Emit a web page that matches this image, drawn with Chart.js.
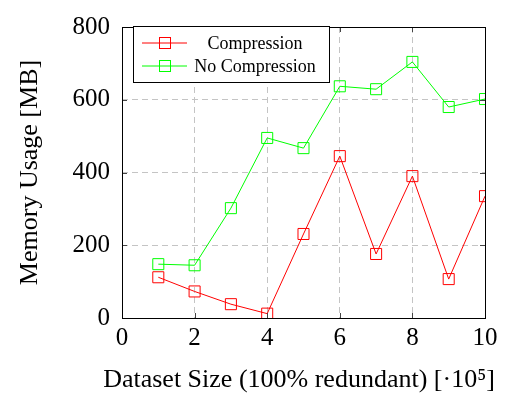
<!DOCTYPE html>
<html>
<head>
<meta charset="utf-8">
<script src="https://cdn.jsdelivr.net/npm/chart.js@4.4.0/dist/chart.umd.min.js"></script>
<style>
	body { margin: 0; background: #fff; }
</style>
</head>
<body>
<canvas id="chart" width="508" height="396"></canvas>
<script>
let datasetSizes = [1, 2, 3, 4, 5, 6, 7, 8, 9, 10];
let compression = [112, 73, 38, 12, 231, 445, 176, 390, 107, 335];
let noCompression = [148, 145, 302, 495, 467, 637, 629, 704, 580, 602];
let xTicks = [0, 2, 4, 6, 8, 10];
let yTicks = [0, 200, 400, 600, 800];
let xTitle = 'Dataset Size (100% redundant) [·10⁵]';
let yTitle = 'Memory Usage [MB]';

let serif = "'Liberation Serif', 'Times New Roman', serif";

function toPoints(values) {
	return values.map((v, i) => {return {'x': datasetSizes[i], 'y': v}});
}

// frame, small tick marks, x title and the legend box inside the plot
let framePlugin = {
	id: 'frame',
	afterDraw(chart) {
		let ctx = chart.ctx;
		let a = chart.chartArea;
		let xs = chart.scales.x, ys = chart.scales.y;
		ctx.save();
		ctx.strokeStyle = '#444';
		ctx.lineWidth = 1;
		ctx.beginPath();
		xTicks.forEach(t => {
			let px = Math.round(xs.getPixelForValue(t)) + 0.5;
			ctx.moveTo(px, a.bottom); ctx.lineTo(px, a.bottom - 5);
			ctx.moveTo(px, a.top); ctx.lineTo(px, a.top + 5);
		});
		yTicks.forEach(t => {
			let py = Math.round(ys.getPixelForValue(t)) + 0.5;
			ctx.moveTo(a.left, py); ctx.lineTo(a.left + 5, py);
			ctx.moveTo(a.right, py); ctx.lineTo(a.right - 5, py);
		});
		ctx.stroke();
		ctx.strokeStyle = '#000';
		ctx.strokeRect(Math.round(a.left) + 0.5, Math.round(a.top) + 0.5, Math.round(a.right - a.left), Math.round(a.bottom - a.top));

		// x title, drawn here so it is not squeezed to the axis width
		ctx.fillStyle = '#000';
		ctx.font = '26px ' + serif;
		ctx.textAlign = 'center';
		ctx.textBaseline = 'middle';
		ctx.fillText(xTitle, 299, 380);

		// legend
		let bx = 133.5, by = 26.5, bw = 196, bh = 56;
		ctx.fillStyle = '#fff';
		ctx.fillRect(bx, by, bw, bh);
		ctx.strokeStyle = '#000';
		ctx.strokeRect(bx, by, bw, bh);
		ctx.font = '18px ' + serif;
		chart.data.datasets.forEach((ds, i) => {
			let y = 43 + i * 23;
			ctx.strokeStyle = ds.borderColor;
			ctx.beginPath();
			ctx.moveTo(142, y); ctx.lineTo(187, y);
			ctx.stroke();
			ctx.strokeRect(159.5, y - 5.5, 11, 11);
			ctx.fillStyle = '#000';
			ctx.fillText(ds.label, 255, y + 1);
		});
		ctx.restore();
	}
};

new Chart(document.querySelector('#chart'), {
	type: 'line',
	data: {
		datasets: [
			{
				label: 'Compression',
				data: toPoints(compression),
				borderColor: '#ff0000',
				borderWidth: 1,
				pointStyle: 'rect',
				pointRadius: 7.8,
				pointBorderWidth: 1,
				pointBackgroundColor: 'rgba(0,0,0,0)',
				pointBorderColor: '#ff0000',
				tension: 0
			},
			{
				label: 'No Compression',
				data: toPoints(noCompression),
				borderColor: '#00ff00',
				borderWidth: 1,
				pointStyle: 'rect',
				pointRadius: 7.8,
				pointBorderWidth: 1,
				pointBackgroundColor: 'rgba(0,0,0,0)',
				pointBorderColor: '#00ff00',
				tension: 0
			}
		]
	},
	options: {
		responsive: false,
		animation: false,
		events: [],
		layout: {
			padding: {top: 16, right: 23, left: 0, bottom: 0}
		},
		plugins: {
			legend: {display: false},
			tooltip: {enabled: false}
		},
		scales: {
			x: {
				type: 'linear',
				min: 0,
				max: 10,
				afterBuildTicks: scale => { scale.ticks = xTicks.map(v => ({value: v})); },
				afterFit: scale => { scale.height = 78; },
				grid: {color: '#c4c4c4', lineWidth: 1, drawTicks: false},
				border: {display: false, dash: [6, 4]},
				ticks: {color: '#000', padding: 5, font: {family: serif, size: 25}}
			},
			y: {
				min: 0,
				max: 800,
				afterBuildTicks: scale => { scale.ticks = yTicks.map(v => ({value: v})); },
				afterFit: scale => { scale.width = 122; },
				grid: {color: '#c4c4c4', lineWidth: 1, drawTicks: false},
				border: {display: false, dash: [6, 4]},
				ticks: {color: '#000', padding: 12, font: {family: serif, size: 25}},
				title: {
					display: true,
					text: yTitle,
					color: '#000',
					font: {family: serif, size: 26},
					padding: {top: 15, bottom: 0}
				}
			}
		}
	},
	plugins: [framePlugin]
});
</script>
</body>
</html>
